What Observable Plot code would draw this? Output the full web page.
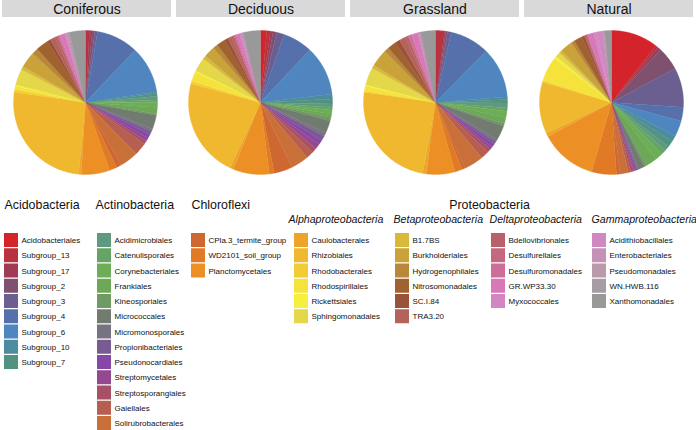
<!DOCTYPE html>
<html><head><meta charset="utf-8">
<script src="https://cdn.jsdelivr.net/npm/d3@7"></script>
<script src="https://cdn.jsdelivr.net/npm/@observablehq/plot@0.6"></script>
<style>html,body{margin:0;padding:0;background:#fff;}</style>
</head><body><div id="chart"></div>
<script>
// ---------- data ----------
const sites = ["Coniferous", "Deciduous", "Grassland", "Natural"];
const phyla = ["Acidobacteria", "Actinobacteria", "Chloroflexi", "Proteobacteria"];
const groups = ["Acidobacteria", "Actinobacteria", "Chloroflexi", "Alphaproteobacteria", "Betaproteobacteria", "Deltaproteobacteria", "Gammaproteobacteria"];
const classes = ["Alphaproteobacteria", "Betaproteobacteria", "Deltaproteobacteria", "Gammaproteobacteria"];
const groupSizes = [9, 13, 3, 6, 6, 5, 5];
const orders = [
  "Acidobacteriales", "Subgroup_13", "Subgroup_17", "Subgroup_2", "Subgroup_3", "Subgroup_4", "Subgroup_6", "Subgroup_10", "Subgroup_7",
  "Acidimicrobiales", "Catenulisporales", "Corynebacteriales", "Frankiales", "Kineosporiales", "Micrococcales", "Micromonosporales", "Propionibacteriales", "Pseudonocardiales", "Streptomycetales", "Streptosporangiales", "Gaiellales", "Solirubrobacterales",
  "CPla.3_termite_group", "WD2101_soil_group", "Planctomycetales",
  "Caulobacterales", "Rhizobiales", "Rhodobacterales", "Rhodospirillales", "Rickettsiales", "Sphingomonadales",
  "B1.7BS", "Burkholderiales", "Hydrogenophilales", "Nitrosomonadales", "SC.I.84", "TRA3.20",
  "Bdellovibrionales", "Desulfurellales", "Desulfuromonadales", "GR.WP33.30", "Myxococcales",
  "Acidithiobacillales", "Enterobacteriales", "Pseudomonadales", "WN.HWB.116", "Xanthomonadales"
];
const colors = [
  "#d4232a", "#b8323f", "#a03a55", "#80506f", "#6a5f90", "#5670ac", "#4f86c0", "#4c8c9e", "#519280",
  "#5d9a80", "#66a466", "#6cae55", "#6ca855", "#6f9a64", "#717b70", "#767483", "#7a5a92", "#8747a6", "#93488f", "#a85066", "#b85e50", "#c9703a",
  "#cf6830", "#e07a25", "#ec8f25",
  "#eca52a", "#f0b82e", "#f2cc35", "#f5e33c", "#f7ef3e", "#e4d84a",
  "#d8b93a", "#c9a23a", "#b8873a", "#a0622f", "#9a5238", "#b5625a",
  "#b9616a", "#c46880", "#cd6e9a", "#d878b6", "#d386c2",
  "#d088c0", "#c591b6", "#b89aaa", "#a89ca4", "#999999"
];
// relative abundance (%) per order, same order as `orders`
const coniferous = [0.1, 0.8, 0.6, 0.6, 0.6, 9.4, 10.6, 0.4, 0.6,
  0.8, 0.6, 1.1, 1.4, 0.4, 3.1, 0.6, 0.7, 1.0, 0.7, 0.8, 2.8, 4.2,
  1.1, 1.7, 6.4,
  0.6, 25.8, 0.6, 0.8, 0.3, 3.6,
  0.8, 3.6, 1.4, 2.8, 0.8, 1.1,
  0.6, 0.3, 0.3, 1.1, 0.3,
  0.3, 0.1, 0.1, 0.3, 3.6];
const deciduous = [1.4, 0.8, 0.6, 0.8, 1.7, 6.7, 11.1, 1.1, 1.1,
  0.8, 0.6, 0.8, 0.8, 0.8, 2.8, 0.8, 1.1, 1.1, 1.1, 1.1, 1.7, 3.9,
  4.2, 1.1, 8.1,
  0.8, 22.2, 0.6, 2.2, 0.3, 3.1,
  0.8, 2.5, 1.1, 1.9, 0.8, 0.8,
  0.6, 0.3, 0.3, 0.8, 0.3,
  0.3, 0.1, 0.1, 0.1, 3.8];
const grassland = [0.1, 1.9, 0.3, 0.4, 0.8, 8.9, 11.3, 0.6, 0.8,
  1.1, 0.7, 1.4, 1.4, 0.6, 3.3, 0.6, 0.6, 0.8, 0.6, 0.8, 1.9, 4.4,
  0.6, 1.7, 6.4,
  0.8, 24.4, 0.3, 1.1, 0.3, 3.9,
  0.8, 3.9, 1.1, 1.9, 1.1, 1.4,
  0.6, 0.3, 0.6, 1.4, 0.3,
  0.1, 0.1, 0.1, 0.1, 3.3];
const natural = [10.6, 0.6, 0.8, 5.3, 8.9, 3.1, 3.6, 1.4, 1.4,
  1.1, 1.1, 1.7, 2.5, 0.6, 1.4, 0.3, 0.3, 0.3, 0.3, 0.6, 0.6, 1.9,
  0.8, 5.6, 12.8,
  0.8, 11.7, 0.3, 5.6, 0.6, 1.1,
  0.6, 2.8, 0.8, 1.9, 0.6, 0.3,
  0.3, 0.1, 0.1, 1.4, 0.6,
  1.4, 0.3, 0.1, 0.1, 1.5];
const siteValues = [coniferous, deciduous, grassland, natural];

// ---------- layout ----------
const W = 696, H = 430;
const pieCx = [85, 260, 435, 611], pieCy = 102, pieR = 72;
const stripX = [2, 176, 350, 524], stripW = 169, stripH = 17;
const colX = [4, 97, 191, 294, 395, 491, 592];
const phylumX = [4, 95, 191, 489];
const classX = [288, 393, 489, 591];
const swW = 14, swH = 14, rowY0 = 240, rowStep = 15.25, textGap = 17;

// pie wedges via d3.pie
const wedges = [];
sites.forEach((s, si) => {
  const arcs = d3.pie().sort(null).value(d => d)(siteValues[si]);
  arcs.forEach((a, i) => {
    const key = s + "|" + orders[i];
    const cx = pieCx[si];
    const n = Math.max(2, Math.ceil((a.endAngle - a.startAngle) / 0.01));
    wedges.push({key, order: orders[i], x: cx, y: pieCy});
    for (let k = 0; k <= n; ++k) {
      const t = a.startAngle + (a.endAngle - a.startAngle) * k / n;
      wedges.push({key, order: orders[i], x: cx + pieR * Math.sin(t), y: pieCy - pieR * Math.cos(t)});
    }
    wedges.push({key, order: orders[i], x: cx, y: pieCy});
  });
});

// legend items
const items = [];
let idx = 0;
groups.forEach((g, gi) => {
  for (let j = 0; j < groupSizes[gi]; ++j) {
    items.push({order: orders[idx++], col: gi, row: j});
  }
});
const rowY = d => rowY0 + d.row * rowStep;

const strips = sites.map((s, i) => ({site: s, i}));
const phylumTitles = phyla.map((p, i) => ({p, i}));
const classTitles = classes.map((c, i) => ({c, i}));

const chart = Plot.plot({
  width: W, height: H, margin: 0,
  x: {domain: [0, W], range: [0, W], axis: null},
  y: {domain: [0, H], range: [0, H], axis: null},
  color: {type: "ordinal", domain: orders, range: colors},
  style: {fontFamily: "'Liberation Sans', Arial, Helvetica, sans-serif", background: "#fff", color: "#111"},
  marks: [
    // header strips
    Plot.rect(strips, {x1: d => stripX[d.i], x2: d => stripX[d.i] + stripW, y1: 0, y2: stripH, fill: "#d9d9d9"}),
    Plot.text(strips, {x: d => stripX[d.i] + stripW / 2, y: 8.6, text: "site", fontSize: 14, fill: "#111"}),
    // pies
    Plot.line(wedges, {x: "x", y: "y", z: "key", fill: "order", stroke: "order", strokeWidth: 0.35, curve: "linear"}),
    // legend titles
    Plot.text(phylumTitles.filter(d => d.p !== "Proteobacteria"), {x: d => phylumX[d.i], y: 205, text: "p", fontSize: 12.4, textAnchor: "start", fill: "#111"}),
    Plot.text(phylumTitles.filter(d => d.p === "Proteobacteria"), {x: d => phylumX[d.i], y: 205, text: "p", fontSize: 12.4, textAnchor: "middle", fill: "#111"}),
    Plot.text(classTitles, {x: d => classX[d.i], y: 219.5, text: "c", fontSize: 10.6, fontStyle: "italic", textAnchor: "start", fill: "#111"}),
    // legend swatches
    Plot.rect(items, {x1: d => colX[d.col], x2: d => colX[d.col] + swW, y1: d => rowY(d) - swH / 2, y2: d => rowY(d) + swH / 2, fill: "order"}),
    Plot.text(items, {x: d => colX[d.col] + textGap, y: rowY, text: "order", fontSize: 8, textAnchor: "start", fill: "#111"})
  ]
});
document.getElementById("chart").appendChild(chart);
</script>
</body></html>
